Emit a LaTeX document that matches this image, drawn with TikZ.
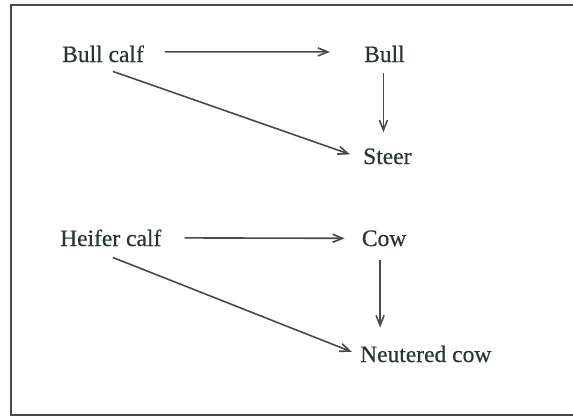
\documentclass[tikz,border=0pt]{standalone}
\usepackage{fontspec}
\setmainfont{Liberation Serif}
\newfontfamily\termfont[FakeBold=0.5]{Liberation Serif}
\usetikzlibrary{arrows.meta}
\definecolor{inkText}{HTML}{2A352D}
\definecolor{inkLine}{HTML}{464B47}
\tikzset{
  term/.style={anchor=base west, inner sep=0pt, text=inkText, font=\fontsize{23.5}{26}\termfont},
  link/.style={draw=inkLine, line width=1.6pt, -{Straight Barb[length=10pt,width=8pt,line width=1.6pt]}},
  frame/.style={draw=inkLine, line width=1.8pt}
}
\begin{document}
\begin{tikzpicture}[x=1pt,y=-1pt]
  \useasboundingbox (0,0) rectangle (573,418);
  \draw[frame] (11,5) rectangle (590,415);

  % male line
  \node[term] (bullcalf) at (62,62) {Bull calf};
  \node[term] (bull)     at (364,62) {Bull};
  \node[term] (steer)    at (363,164) {Steer};

  % female line
  \node[term] (heifer)   at (60,246) {Heifer calf};
  \node[term] (cow)      at (361.7,246) {Cow};
  \node[term] (neut)     at (360,362) {Neutered cow};

  \draw[link, shorten <=21pt, shorten >=34pt] ([yshift=2pt]bullcalf.east) -- ([yshift=2pt]bull.west);
  \draw[link] ([shift={(10,9)}]bullcalf.south) -- ([shift={(-13,-2)}]steer.west);
  \draw[link, shorten <=11pt, shorten >=16pt] ([xshift=-1pt]bull.south) -- ([xshift=-1pt]bull.south |- steer.north);

  \draw[link, shorten <=23pt, shorten >=17pt] (heifer.east) -- (cow.west);
  \draw[link] ([shift={(2,11)}]heifer.south) -- ([shift={(-8,-2)}]neut.west);
  \draw[link, shorten <=14pt, shorten >=18pt] ([xshift=-4pt]cow.south) -- ([xshift=-4pt]cow.south |- neut.north);
\end{tikzpicture}
\end{document}
